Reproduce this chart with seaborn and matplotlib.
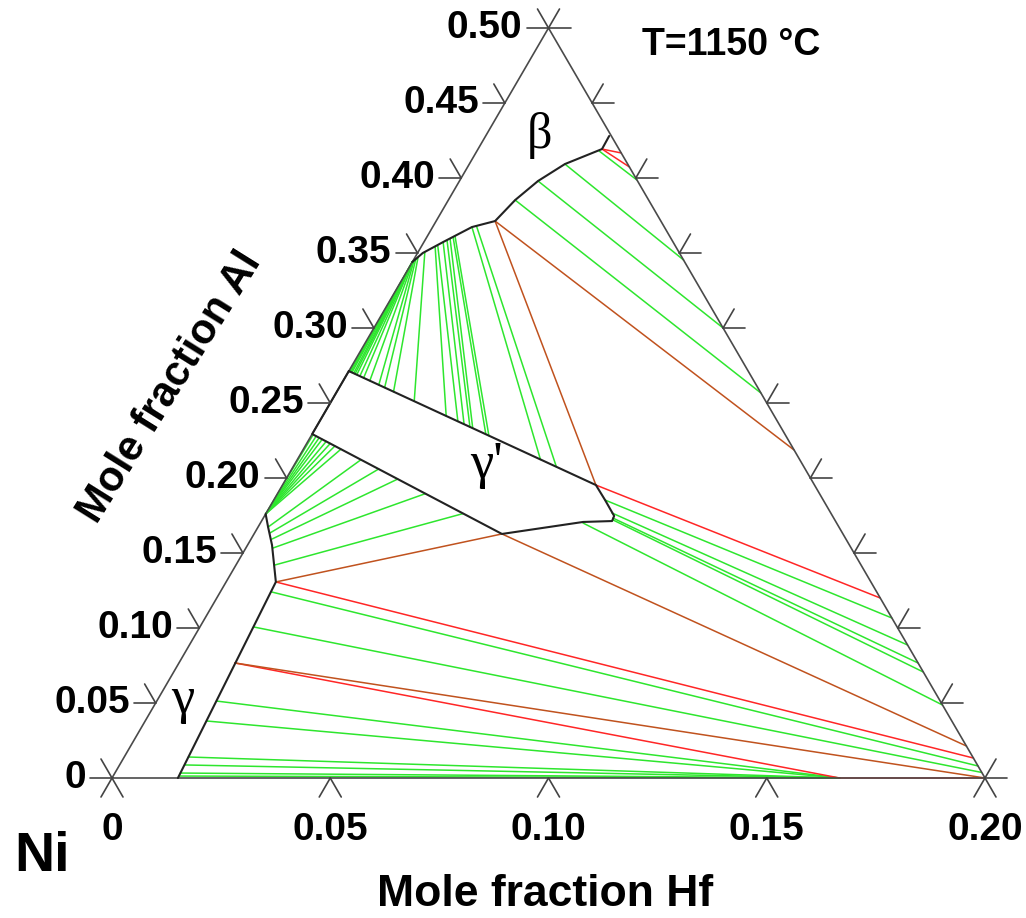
import numpy as np
import pandas as pd
import matplotlib
matplotlib.use("Agg")
import matplotlib.pyplot as plt
import seaborn as sns

# ---------------- data (mole fractions: Hf, Al) ----------------
# phase boundaries
beta_bnd_hf = [0.0, 0.0012, 0.0044, 0.0090, 0.0135, 0.0142, 0.0153, 0.0180, 0.0219, 0.0284, 0.0283]
beta_bnd_al = [0.344, 0.350, 0.3573, 0.3673, 0.3713, 0.3767, 0.3853, 0.398, 0.4093, 0.4193, 0.428]

gp_bnd_hf = [0.0, 0.0, 0.0568, 0.0738, 0.0803, 0.0801, 0.0759, 0.0718, 0.0]
gp_bnd_al = [0.2713, 0.2293, 0.1627, 0.1707, 0.1713, 0.1747, 0.1853, 0.1953, 0.2713]

g_bnd_hf = [0.0, 0.0023, 0.0056, 0.0114, 0.0151]
g_bnd_al = [0.176, 0.1673, 0.1553, 0.1307, 0.0]

# tie lines beta + gamma'
bg_start_hf = [0.0, 0.0, 0.0, 0.0, 0.0, 0.0, 0.0, 0.0, 0.0001, 0.0002, 0.0004, 0.0007,
               0.0016, 0.0033, 0.0037, 0.0044, 0.0051, 0.0056, 0.0061, 0.0064, 0.0090, 0.0099]
bg_start_al = [0.344, 0.344, 0.344, 0.344, 0.344, 0.344, 0.344, 0.344, 0.3447, 0.345, 0.346, 0.347,
               0.3503, 0.3537, 0.3547, 0.3573, 0.3583, 0.3593, 0.3603, 0.361, 0.3673, 0.368]
bg_end_hf = [0.0003, 0.0006, 0.0009, 0.0014, 0.0018, 0.0023, 0.0032, 0.0043, 0.0061, 0.0087, 0.0104, 0.0130,
             0.0190, 0.0283, 0.0317, 0.0335, 0.0352, 0.0360, 0.0398, 0.0407, 0.0557, 0.0603]
bg_end_al = [0.2710, 0.2707, 0.2703, 0.2698, 0.2694, 0.2689, 0.2679, 0.2667, 0.2648, 0.2621, 0.2603, 0.2575,
             0.2512, 0.2413, 0.2377, 0.2358, 0.2340, 0.2332, 0.2292, 0.2282, 0.2123, 0.2075]

# tie lines beta + Hf-rich phase
bx_start_hf = [0.0280, 0.0219, 0.0180, 0.0153]
bx_start_al = [0.4180, 0.4093, 0.3980, 0.3853]
bx_end_hf = [0.0405, 0.0619, 0.0800, 0.0973]
bx_end_al = [0.3987, 0.3453, 0.3000, 0.2567]

# tie lines gamma + gamma'
gg_start_hf = [0.0, 0.0, 0.0, 0.0, 0.0, 0.0, 0.0, 0.0, 0.0023, 0.0035, 0.0048, 0.0062, 0.0089]
gg_start_al = [0.176, 0.176, 0.176, 0.176, 0.176, 0.176, 0.176, 0.176, 0.1673, 0.1633, 0.1593, 0.1533, 0.142]
gg_end_hf = [0.0003, 0.0012, 0.0021, 0.0030, 0.0042, 0.0054, 0.0068, 0.0086, 0.0146, 0.0199, 0.0256, 0.0339, 0.0452]
gg_end_al = [0.2289, 0.2279, 0.2268, 0.2258, 0.2244, 0.2230, 0.2213, 0.2192, 0.2122, 0.2060, 0.1993, 0.1896, 0.1763]

# tie lines gamma' + Hf-rich phase
gpx_start_hf = [0.0759, 0.0792, 0.0801, 0.0804, 0.0739]
gpx_start_al = [0.1853, 0.1767, 0.1733, 0.1720, 0.1700]
gpx_end_hf = [0.1573, 0.1645, 0.1693, 0.1717, 0.1805]
gpx_end_al = [0.1067, 0.0887, 0.0767, 0.0707, 0.0487]

# tie lines gamma + Hf-rich phase
gx_start_hf = [0.0118, 0.0123]
gx_start_al = [0.124, 0.1007]
gx_end_hf = [0.1968, 0.1985]
gx_end_al = [0.008, 0.0037]

# tie lines gamma + Ni5Hf
gy_start_hf = [0.0137, 0.0141, 0.0147, 0.0149, 0.0150, 0.0151]
gy_start_al = [0.0513, 0.0380, 0.0140, 0.0087, 0.0033, 0.0013]
gy_end_hf = [0.1667, 0.1667, 0.1667, 0.1667, 0.1667, 0.1667]
gy_end_al = [0.0, 0.0, 0.0, 0.0, 0.0, 0.0]

# three-phase triangle edges
red_start_hf = [0.0718, 0.0114, 0.0128, 0.1667, 0.0284, 0.0284]
red_start_al = [0.1953, 0.1307, 0.0767, 0.0, 0.4193, 0.4193]
red_end_hf = [0.1520, 0.1947, 0.1667, 0.2000, 0.0333, 0.0371]
red_end_al = [0.1200, 0.0133, 0.0, 0.0, 0.4167, 0.4073]

brown_start_hf = [0.0135, 0.0135, 0.0114, 0.0568, 0.0128]
brown_start_al = [0.3713, 0.3713, 0.1307, 0.1627, 0.0767]
brown_end_hf = [0.0718, 0.1125, 0.0568, 0.1915, 0.2000]
brown_end_al = [0.1953, 0.2187, 0.1627, 0.0213, 0.0]

# axes ticks
al_ticks = [0.0, 0.05, 0.10, 0.15, 0.20, 0.25, 0.30, 0.35, 0.40, 0.45, 0.50]
al_tick_labels = ["0", "0.05", "0.10", "0.15", "0.20", "0.25", "0.30", "0.35", "0.40", "0.45", "0.50"]
hf_ticks = [0.0, 0.05, 0.10, 0.15, 0.20]
hf_tick_labels = ["0", "0.05", "0.10", "0.15", "0.20"]

HF_MAX = 0.2
AL_MAX = 0.5


def to_xy(hf, al):
    hf = np.asarray(hf, float)
    al = np.asarray(al, float)
    return hf / HF_MAX + 0.5 * al / AL_MAX, al / AL_MAX


# ---------------- build long-form tie-line table ----------------
rows = []
lid = 0
groups = [
    ("tie", bg_start_hf, bg_start_al, bg_end_hf, bg_end_al),
    ("tie", bx_start_hf, bx_start_al, bx_end_hf, bx_end_al),
    ("tie", gg_start_hf, gg_start_al, gg_end_hf, gg_end_al),
    ("tie", gpx_start_hf, gpx_start_al, gpx_end_hf, gpx_end_al),
    ("tie", gx_start_hf, gx_start_al, gx_end_hf, gx_end_al),
    ("tie", gy_start_hf, gy_start_al, gy_end_hf, gy_end_al),
    ("red", red_start_hf, red_start_al, red_end_hf, red_end_al),
    ("brown", brown_start_hf, brown_start_al, brown_end_hf, brown_end_al),
]
for kind, sh, sa, eh, ea in groups:
    for a, b, c, d in zip(sh, sa, eh, ea):
        x0, y0 = to_xy(a, b)
        x1, y1 = to_xy(c, d)
        rows.append({"X": float(x0), "Y": float(y0), "lid": lid, "kind": kind, "o": 0})
        rows.append({"X": float(x1), "Y": float(y1), "lid": lid, "kind": kind, "o": 1})
        lid += 1
df = pd.DataFrame(rows)

sns.set_theme(style="white")
plt.rcParams["font.family"] = ["Liberation Sans", "DejaVu Sans"]
plt.rcParams["text.color"] = "black"

fig = plt.figure(figsize=(10.26, 9.18), dpi=100)
ax = fig.add_axes([0, 0, 1, 1])
ax.set_xlim(-112 / 873, 914 / 873)
ax.set_ylim(-140 / 750, 778 / 750)
ax.axis("off")

palette = {"tie": "#2ee62e", "red": "#ff2626", "brown": "#c0521e"}
for kind in ["tie", "red", "brown"]:
    sub = df[df["kind"] == kind]
    sns.lineplot(data=sub, x="X", y="Y", units="lid", estimator=None, sort=False,
                 color=palette[kind], linewidth=1.1, legend=False, ax=ax)

# triangle frame
fx, fy = to_xy([0, HF_MAX, 0, 0], [0, 0, AL_MAX, 0])
ax.plot(fx, fy, color="#4a4a4a", lw=1.2)

# phase boundaries
for h, a in [(beta_bnd_hf, beta_bnd_al), (gp_bnd_hf, gp_bnd_al), (g_bnd_hf, g_bnd_al)]:
    x, y = to_xy(h, a)
    ax.plot(x, y, color="#222222", lw=1.5)

# tick marks
tl_h = 22 / 873
tl_sx = 11 / 873
tl_sy = 19 / 750
tick_kw = dict(color="#444444", lw=1.2)
for v, lab in zip(al_ticks, al_tick_labels):
    xl, yl = to_xy(0, v)
    ax.plot([xl, xl - tl_h], [yl, yl], **tick_kw)
    ax.plot([xl, xl - tl_sx], [yl, yl + tl_sy], **tick_kw)
    ax.text(xl - tl_h - 4 / 873, yl, lab, ha="right", va="center",
            fontsize=28, fontweight="bold", color="black")
    xr, yr = to_xy(HF_MAX * (1 - v / AL_MAX), v)
    ax.plot([xr, xr + tl_h], [yr, yr], **tick_kw)
    ax.plot([xr, xr + tl_sx], [yr, yr + tl_sy], **tick_kw)
for v, lab in zip(hf_ticks, hf_tick_labels):
    xb, yb = to_xy(v, 0)
    ax.plot([xb, xb - tl_sx], [yb, yb - tl_sy], **tick_kw)
    ax.plot([xb, xb + tl_sx], [yb, yb - tl_sy], **tick_kw)
    ax.text(xb, -52 / 750, lab, ha="center", va="center",
            fontsize=28, fontweight="bold", color="black")

# labels
ax.text(-70 / 873, -79 / 750, "Ni", ha="center", va="center", fontsize=40,
        fontweight="bold", color="black")
ax.text(433 / 873, -117 / 750, "Mole fraction Hf", ha="center", va="center",
        fontsize=32, fontweight="bold", color="black")
ax.text(58 / 873, 391 / 750, "Mole fraction Al", ha="center", va="center",
        fontsize=30, fontweight="bold", rotation=58, rotation_mode="anchor", color="black")
ax.text(619 / 873, 733 / 750, "T=1150 \u00b0C", ha="center", va="center",
        fontsize=27, fontweight="bold", color="black")

serif = ["Liberation Serif", "DejaVu Serif"]
ax.text(428 / 873, 643 / 750, "\u03b2", ha="center", va="center", fontsize=36,
        family=serif, color="black")
ax.text(375 / 873, 313 / 750, "\u03b3'", ha="center", va="center", fontsize=38,
        family=serif, color="black")
ax.text(71 / 873, 78 / 750, "\u03b3", ha="center", va="center", fontsize=38,
        family=serif, color="black")

fig.savefig("out.png", dpi=100)
